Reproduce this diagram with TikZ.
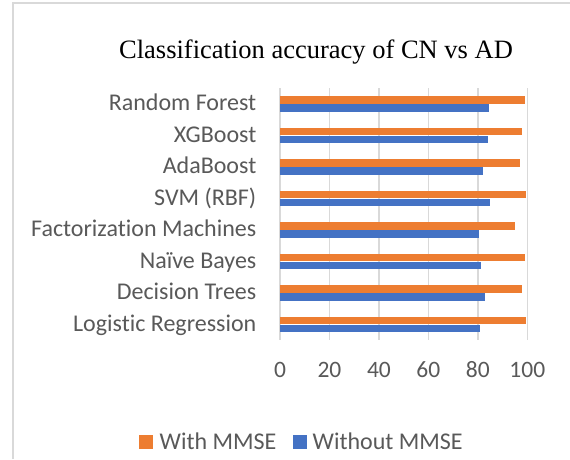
\documentclass[tikz,border=0pt]{standalone}
\usepackage{fontspec}
\setmainfont{Liberation Serif}
\newfontfamily\chartfont[Ligatures=NoCommon]{Carlito}
\definecolor{barorange}{HTML}{ED7D31}
\definecolor{barblue}{HTML}{4472C4}
\definecolor{gridgray}{HTML}{D9D9D9}
\definecolor{labelgray}{HTML}{595959}
\begin{document}
\begin{tikzpicture}[x=1pt,y=-1pt,
  gridline/.style={draw=gridgray,line width=1.5pt},
  framelinestyle/.style={draw=gridgray,line width=1.2pt},
  catlabel/.style={anchor=base east,inner sep=0pt,font=\chartfont\fontsize{24}{28}\selectfont,text=labelgray},
  ticklabel/.style={anchor=base,inner sep=0pt,font=\chartfont\fontsize{23.5}{28}\selectfont,text=labelgray},
  legendlabel/.style={anchor=base west,inner sep=0pt,font=\chartfont\fontsize{24}{28}\selectfont,text=labelgray},
  withbar/.style={fill=barorange,draw=none},
  withoutbar/.style={fill=barblue,draw=none}]
\useasboundingbox (0,0) rectangle (570,459);
\fill[white] (0,0) rectangle (570,459);
% chart frame (only the left and top edges fall inside the page)
\draw[framelinestyle] (13,459) -- (13,3) -- (570,3);
% title
\node[anchor=base,inner sep=0pt,font=\fontsize{26.5}{32}\selectfont] (title) at (316,58) {Classification accuracy of CN vs AD};
% vertical grid lines and tick labels: value v sits at 280 + 2.473 v
\foreach \v/\n in {0/t0,20/t20,40/t40,60/t60,80/t80,100/t100}{
  \draw[gridline] ({280+2.473*\v},88) -- ({280+2.473*\v},340);
  \node[ticklabel] (\n) at ({280+2.473*\v},377.5) {\v};
}
% bars: orange (with MMSE) above blue (without MMSE)
\foreach \c/\name/\w/\wo [count=\i] in {
  104/Random Forest/98.9/84.5,
  135.5/XGBoost/98.0/84.1,
  167/AdaBoost/97.2/82.0,
  198.5/SVM (RBF)/99.3/84.9,
  230/Factorization Machines/95.0/80.6,
  261.5/Naïve Bayes/98.9/81.4,
  293/Decision Trees/98.0/82.9,
  324.5/Logistic Regression/99.3/80.8}{
  \fill[withbar] (280,\c-7.6) rectangle ({280+2.473*\w},\c-0.2);
  \fill[withoutbar] (280,\c+0.2) rectangle ({280+2.473*\wo},\c+7.6);
  \node[catlabel] (cat\i) at (256.5,\c+6.5) {\name};
}
% legend
\fill[withbar] (139.3,434.5) rectangle (153.3,448.5);
\node[legendlabel] (legwith) at (159.5,449) {With MMSE};
\fill[withoutbar] (293.3,434.5) rectangle (307.3,448.5);
\node[legendlabel] (legwithout) at (312.5,449) {Without MMSE};
\end{tikzpicture}
\end{document}
